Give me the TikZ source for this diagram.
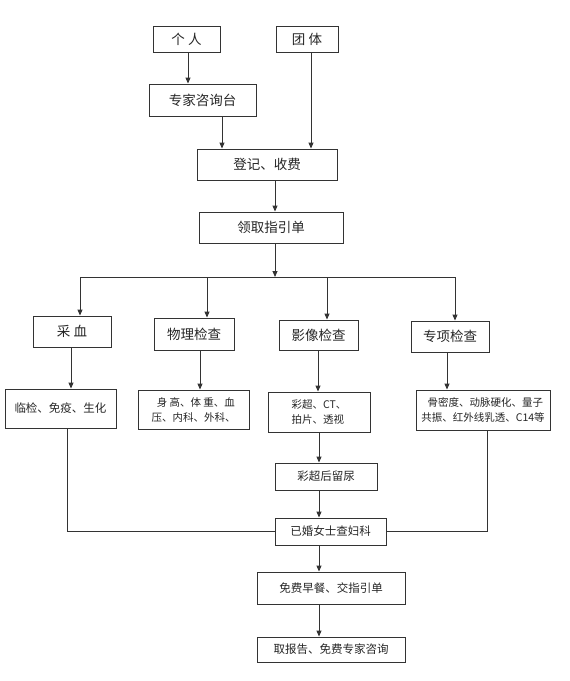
\documentclass[tikz,border=0pt]{standalone}
\usepackage{fontspec}
\setmainfont{Noto Sans CJK SC}
\usetikzlibrary{arrows.meta}
\begin{document}
\begin{tikzpicture}[x=1pt,y=-1pt,
  box/.style={draw=black!80, line width=0.9pt, inner sep=1pt, text=black!85, font=\fontsize{13.5}{15}\selectfont},
  mbox/.style={box, font=\fontsize{11.5}{13}\selectfont},
  sbox/.style={box, font=\fontsize{10.5}{15}\selectfont},
  ln/.style={draw=black!80, line width=0.9pt},
  arr/.style={ln, -{Triangle[length=6pt,width=5pt]}}]
\useasboundingbox[fill=white] (0,0) rectangle (570,681);
\node[box, minimum width=67, minimum height=26] (geren) at (186.5,39) {个\ 人};
\node[box, minimum width=62, minimum height=26] (tuanti) at (307,39) {团\ 体};
\node[box, minimum width=107, minimum height=32] (zixun) at (202.5,100) {专家咨询台};
\node[box, minimum width=140, minimum height=31] (dengji) at (267,164.5) {登记、收费};
\node[box, minimum width=144, minimum height=31] (lingqu) at (271,227.5) {领取指引单};
\node[box, minimum width=78, minimum height=31] (caixue) at (72,331.5) {采\ 血};
\node[box, minimum width=80, minimum height=32] (wuli) at (194,334) {物理检查};
\node[box, minimum width=79, minimum height=30] (yingxiang) at (318.5,335) {影像检查};
\node[box, minimum width=78, minimum height=31] (zhuanxiang) at (450,336.5) {专项检查};
\node[mbox, minimum width=111, minimum height=39] (linjian) at (60.5,408.5) {临检、免疫、生化};
\node[sbox, minimum width=111, minimum height=39, align=center] (shengao) at (193.5,409.5) {\ \ 身\ 高、体\ 重、血\\压、内科、外科、};
\node[sbox, minimum width=102, minimum height=40, align=left] (caichao) at (319,412) {彩超、CT、\\拍片、透视};
\node[sbox, minimum width=134, minimum height=40, align=center] (gumidu) at (483,410) {\ \ 骨密度、动脉硬化、量子\\共振、红外线乳透、C14等};
\node[mbox, minimum width=102, minimum height=27] (liuniao) at (326,476.5) {彩超后留尿};
\node[mbox, minimum width=111, minimum height=27] (yihun) at (330.5,531.5) {已婚女士查妇科};
\node[mbox, minimum width=148, minimum height=32] (zaocan) at (331,588) {免费早餐、交指引单};
\node[mbox, minimum width=148, minimum height=25] (baogao) at (331,649.5) {取报告、免费专家咨询};
\coordinate (branch) at (275,277);
\coordinate (bl) at (80,277);
\coordinate (br) at (455,277);
% top
\draw[arr] (geren.south -| 188,0) -- (zixun.north -| 188,0);
\draw[arr] (zixun.south -| 222,0) -- (dengji.north -| 222,0);
\draw[arr] (tuanti.south -| 311,0) -- (dengji.north -| 311,0);
\draw[arr] (dengji.south -| 275,0) -- (lingqu.north -| 275,0);
\draw[arr] (lingqu.south -| branch) -- (branch);
\draw[ln] (bl) -- (br);
\draw[arr] (bl) -- (caixue.north -| bl);
\draw[arr] (branch -| 207,0) -- (wuli.north -| 207,0);
\draw[arr] (branch -| 327,0) -- (yingxiang.north -| 327,0);
\draw[arr] (br) -- (zhuanxiang.north -| br);
% second row
\draw[arr] (caixue.south -| 71,0) -- (linjian.north -| 71,0);
\draw[arr] (wuli.south -| 200,0) -- (shengao.north -| 200,0);
\draw[arr] (yingxiang.south -| 318,0) -- (caichao.north -| 318,0);
\draw[arr] (zhuanxiang.south -| 447,0) -- (gumidu.north -| 447,0);
\draw[arr] (caichao.south -| 319,0) -- (liuniao.north -| 319,0);
\draw[arr] (liuniao.south -| 319,0) -- (yihun.north -| 319,0);
\draw[arr] (yihun.south -| 319,0) -- (zaocan.north -| 319,0);
\draw[arr] (zaocan.south -| 319,0) -- (baogao.north -| 319,0);
\draw[ln] (linjian.south -| 67,0) |- (yihun.west);
\draw[ln] (gumidu.south -| 487,0) |- (yihun.east);
\end{tikzpicture}
\end{document}
